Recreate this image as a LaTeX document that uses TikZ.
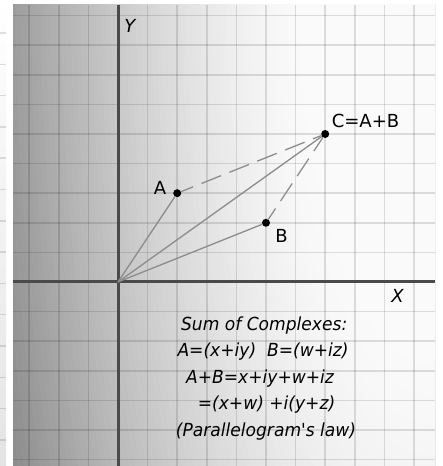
\documentclass[tikz,border=0pt]{standalone}
\usepackage{fontspec}
\setmainfont{DejaVu Sans}
\newfontfamily\blockfont{DejaVu Sans}[FakeStretch=0.95]
\definecolor{axisgray}{HTML}{4A4A4A}
\definecolor{vecgray}{HTML}{8C8C8C}
\definecolor{stripgray}{HTML}{E4E4E4}
\begin{document}
\begin{tikzpicture}[x=1pt,y=1pt,
  gridline/.style={black, opacity=0.12, line width=1.5pt},
  axisline/.style={axisgray, line width=3pt},
  vec/.style={vecgray, line width=1.3pt},
  vecdash/.style={vecgray, line width=1.3pt, dash pattern=on 21pt off 9pt, dash phase=8pt},
  dot/.style={circle, fill=black, inner sep=0pt, minimum size=8pt},
  lbl/.style={font=\fontsize{18}{20}\selectfont, inner sep=0pt},
  axlbl/.style={font=\fontsize{18}{20}\selectfont\itshape, inner sep=0pt},
  txt/.style={font=\blockfont\itshape\fontsize{18}{20}\selectfont, anchor=base, inner sep=0pt}]
\useasboundingbox (0,0) rectangle (442,466);
\fill[white] (0,0) rectangle (442,466);
% left strip
\shade[top color=white, bottom color=stripgray] (0,0) rectangle (6,466);
\foreach \k in {0,...,13} \draw[gridline] (0,{433-31.3*\k}) -- (6,{433-31.3*\k});
% panel background
\begin{scope}
\clip (13,0) rectangle (435,461);
\pgfmathsetmacro\gmax{(250-0.01896*(465-130)^1.5)/255}
\definecolor{bgc}{gray}{\gmax}
\fill[bgc] (13,0) rectangle (435,461);
\foreach \d in {460,455,...,135}{
  \pgfmathsetmacro\g{(250-0.01896*(\d-130)^1.5)/255}
  \definecolor{bgc}{gray}{\g}
  \fill[bgc] (430,506) ellipse [x radius=\d, y radius={3*\d}];
}
\end{scope}
\begin{scope}[shift={(118pt,184pt)}, x=29.6pt, y=29.6pt]
\foreach \k in {-3,...,10} \draw[gridline] (\k,-6.216) -- (\k,9.358);
\foreach \k in {-6,...,9} \draw[gridline] (-3.547,\k) -- (10.709,\k);
\coordinate (O) at (0,0);
\coordinate (xl) at (-3.547,0);
\coordinate (xr) at (10.709,0);
\coordinate (yb) at (0,-6.216);
\coordinate (yt) at (0,9.358);
\draw[axisline] (xl) -- (xr);
\draw[axisline] (yb) -- (yt);
\node[dot] (A) at (2,3) {};
\node[dot] (B) at (5,2) {};
\node[dot] (C) at (7,5) {};
\draw[vec] (O) -- (A);
\draw[vec] (O) -- (B);
\draw[vec] (O) -- (C);
\draw[vecdash] (A) -- (C);
\draw[vecdash] (B) -- (C);
\node[lbl] (la) at (1.419,3.176) {A};
\node[lbl] (lb) at (5.524,1.554) {B};
\node[lbl] (lc) at (8.361,5.439) {C=A+B};
\node[axlbl] (ly) at (0.405,8.666) {Y};
\node[axlbl] (lx) at (9.443,-0.473) {X};
\node[txt] (t1) at (4.939,-1.645) {Sum of Complexes:};
\node[txt] (t2) at (4.899,-2.524) {A=(x+iy)\ \ B=(w+iz)};
\node[txt] (t3) at (4.797,-3.422) {A+B=x+iy+w+iz};
\node[txt] (t4) at (5.017,-4.324) {=(x+w) +i(y+z)};
\node[txt] (t5) at (5.0,-5.203) {(Parallelogram's law)};
\end{scope}
\end{tikzpicture}
\end{document}
